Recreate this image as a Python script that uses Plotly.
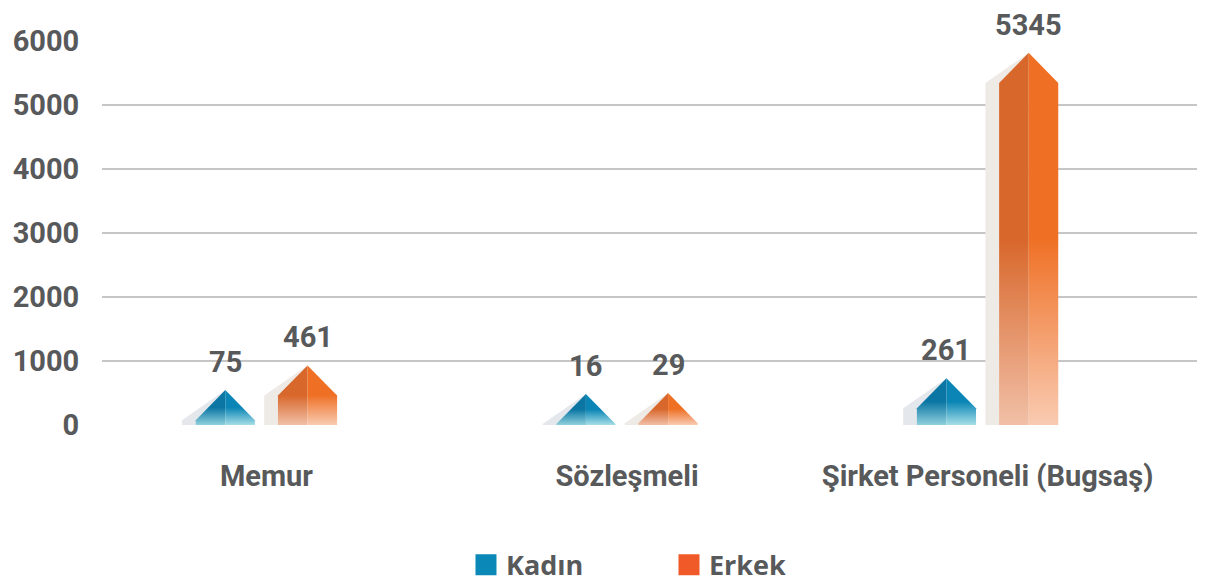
import plotly.graph_objects as go

categories = ["Memur", "Sözleşmeli", "Şirket Personeli (Bugsaş)"]
kadin = [75, 16, 261]
erkek = [461, 29, 5345]
series_names = ["Kadın", "Erkek"]
y_ticks = [0, 1000, 2000, 3000, 4000, 5000, 6000]

TEXT = "#58595b"
FONT = "Roboto"
BAR_W = 0.164        # bar width in category units
OFFSETS = [-0.114, 0.114]
ROOF = 470           # height of the arrow roof (y units)
SHADOW_DX = 0.038

styles = [
    dict(legend="#0a88b8", shadow="#e4e8ec",
         left=["#8fd0dc", "#0b76a4"], right=["#a6dee7", "#0a85b5"]),
    dict(legend="#f05a28", shadow="#eeeae5",
         left=["#f1c0a7", "#d8672b"], right=["#f9cbb2", "#ef7025"]),
]

fig = go.Figure()

for s, values in enumerate([kadin, erkek]):
    st = styles[s]
    for i, v in enumerate(values):
        xc = i + OFFSETS[s]
        h = BAR_W / 2
        top = v + ROOF
        # shadow
        fig.add_trace(go.Scatter(
            x=[xc - h - SHADOW_DX, xc - h - SHADOW_DX, xc, xc, xc - h - SHADOW_DX],
            y=[0, v, top, 0, 0], mode="lines", line=dict(width=0),
            fill="toself", fillcolor=st["shadow"], showlegend=False, hoverinfo="skip"))
        # left half
        fig.add_trace(go.Scatter(
            x=[xc - h, xc - h, xc, xc, xc - h], y=[0, v, top, 0, 0],
            mode="lines", line=dict(width=0), fill="toself",
            fillgradient=dict(type="vertical", start=0, stop=top,
                              colorscale=[[0, st["left"][0]], [0.5, st["left"][1]], [1, st["left"][1]]]),
            showlegend=False, name=series_names[s],
            hovertemplate=f"{categories[i]}<br>{series_names[s]}: {v}<extra></extra>"))
        # right half
        fig.add_trace(go.Scatter(
            x=[xc, xc, xc + h, xc + h, xc], y=[0, top, v, 0, 0],
            mode="lines", line=dict(width=0), fill="toself",
            fillgradient=dict(type="vertical", start=0, stop=top,
                              colorscale=[[0, st["right"][0]], [0.5, st["right"][1]], [1, st["right"][1]]]),
            showlegend=False, name=series_names[s],
            hovertemplate=f"{categories[i]}<br>{series_names[s]}: {v}<extra></extra>"))
        fig.add_annotation(x=xc, y=top, text=str(v), showarrow=False,
                           yanchor="middle", yshift=28,
                           font=dict(family=FONT, size=29, color=TEXT, weight="bold"))
    # legend entry
    fig.add_trace(go.Scatter(x=[None], y=[None], mode="markers", name=series_names[s],
                             marker=dict(symbol="square", size=16, color=st["legend"],
                                         line=dict(width=5, color=st["legend"]))))

fig.update_layout(
    width=1197, height=577,
    margin=dict(l=94, r=0, t=33, b=160, autoexpand=False),
    plot_bgcolor="white", paper_bgcolor="white",
    xaxis=dict(range=[-0.456, 2.603], tickvals=[0, 1, 2], ticktext=categories,
               showgrid=False, zeroline=False, showline=False,
               ticks="outside", ticklen=25, tickcolor="rgba(0,0,0,0)",
               tickfont=dict(family=FONT, size=29, color=TEXT, weight="bold")),
    yaxis=dict(range=[0, 6000], tickvals=y_ticks, showgrid=True,
               gridcolor="#c6c6c6", gridwidth=1.5, zeroline=False, showline=False,
               ticks="outside", ticklen=16, tickcolor="rgba(0,0,0,0)",
               tickfont=dict(family=FONT, size=29, color=TEXT, weight="bold")),
    legend=dict(orientation="h", x=0.33, xanchor="left", y=-0.365, yanchor="middle",
                entrywidth=158, entrywidthmode="pixels",
                font=dict(family="Open Sans", size=27, color=TEXT, weight="bold")),
    hovermode="closest",
)

fig.write_html("out.html")
